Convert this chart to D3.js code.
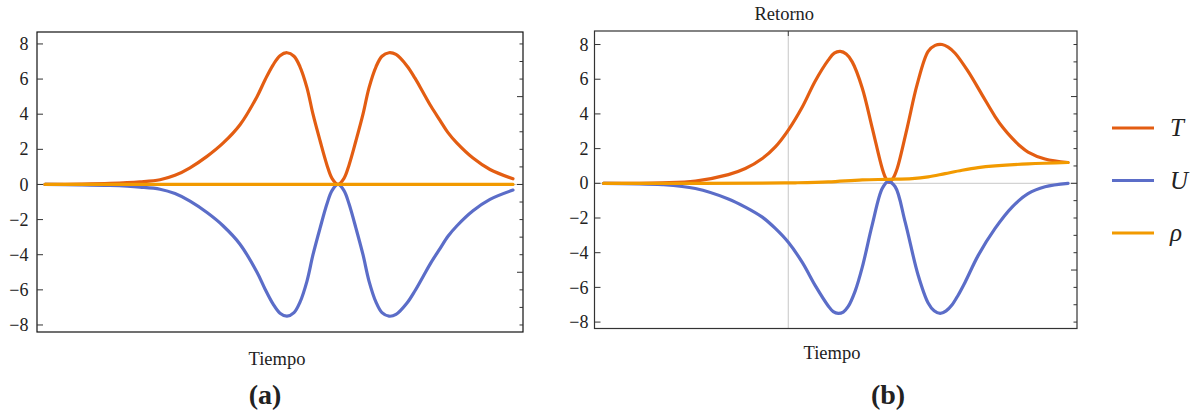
<!DOCTYPE html>
<html>
<head>
<meta charset="utf-8" />
<title>T, U, rho</title>
<script src="https://cdn.jsdelivr.net/npm/d3@7"></script>
<style>
  body { margin: 0; background: #fff; }
  svg text { font-family: "Liberation Serif", "Times New Roman", serif; }
</style>
</head>
<body>
<script>
// ---- data ----
// panel (a)
var timeA = [0, 3.5, 6.5, 9.5, 11.5, 13, 14.5, 16.2, 17.8, 19.5, 21.2, 22.0, 22.8, 23.5, 24.2, 24.9, 25.5, 26.2, 26.8, 27.5, 28.2,
             28.7, 29.3, 29.9, 30.4, 31.1, 31.8, 32.4, 33.1, 33.7, 34.4, 35.1, 36.2, 37.0, 37.8, 38.6, 39.5, 40.3, 41.2, 42.8, 44.5, 46.8];
var tempA = [0, 0.02, 0.06, 0.15, 0.27, 0.52, 0.95, 1.6, 2.35, 3.4, 5.0, 5.95, 6.8, 7.33, 7.5, 7.3, 6.7, 5.5, 4.0, 2.5, 1.1,
             0.35, 0, 0.35, 1.1, 2.5, 4.0, 5.5, 6.7, 7.3, 7.5, 7.4, 6.75, 6.05, 5.25, 4.45, 3.65, 2.95, 2.35, 1.5, 0.85, 0.32];
var velA  = [0, -0.02, -0.06, -0.15, -0.27, -0.52, -0.95, -1.6, -2.35, -3.4, -5.0, -5.95, -6.8, -7.33, -7.5, -7.3, -6.7, -5.5, -4.0, -2.5, -1.1,
             -0.35, 0, -0.35, -1.1, -2.5, -4.0, -5.5, -6.7, -7.3, -7.5, -7.4, -6.75, -6.05, -5.25, -4.45, -3.65, -2.95, -2.35, -1.5, -0.85, -0.32];
var timeRhoA = [0, 10, 20, 30, 40, 46.8];
var rhoA     = [0, 0, 0, 0, 0, 0];

// panel (b)
var timeTB = [0, 5.9, 9.2, 12.5, 14.2, 15.9, 17.2, 18.5, 19.9, 21.2, 22.5, 23.1, 23.7, 24.3, 24.9, 25.9, 26.9, 27.9, 28.25, 28.6,
              29.0, 29.4, 30.4, 31.4, 32.5, 33.2, 33.9, 34.5, 35.2, 36.5, 37.9, 39.2, 40.0, 40.9, 41.7, 42.5, 44.2, 46.5];
var tempB  = [0, 0.03, 0.13, 0.5, 0.85, 1.43, 2.1, 3.07, 4.4, 5.9, 7.1, 7.5, 7.6, 7.45, 7.0, 5.5, 3.2, 0.85, 0.3, 0.05,
              0.3, 0.85, 3.2, 5.7, 7.6, 7.95, 8.0, 7.85, 7.5, 6.45, 5.1, 3.85, 3.2, 2.6, 2.15, 1.8, 1.4, 1.2];
var timeUB = [0, 5.9, 9.2, 12.5, 14.2, 15.9, 17.2, 18.5, 19.9, 21.2, 22.5, 23.0, 23.5, 24.0, 24.5, 25.2, 25.9, 26.9, 27.9, 28.5,
              29.2, 30.2, 31.5, 32.5, 33.1, 33.7, 34.3, 34.9, 35.5, 36.2, 37.5, 39.2, 40.9, 42.5, 44.2, 46.5];
var velB   = [0, -0.08, -0.3, -0.9, -1.37, -1.95, -2.6, -3.4, -4.56, -5.9, -7.07, -7.4, -7.5, -7.42, -7.1, -6.2, -4.85, -2.4, -0.3, 0.1,
              -0.2, -2.24, -5.3, -6.9, -7.35, -7.5, -7.35, -7.0, -6.45, -5.7, -4.17, -2.6, -1.37, -0.6, -0.2, 0];
var timeRhoB = [0, 9.7, 15.9, 19.2, 22.5, 25.9, 28.5, 30.9, 32.5, 34.2, 35.9, 37.5, 39.2, 42.5, 46.5];
var rhoB     = [0, 0, 0.01, 0.03, 0.08, 0.2, 0.23, 0.27, 0.37, 0.56, 0.75, 0.9, 1.0, 1.12, 1.2];

var retornoB = 18.5;

var yTicks = [-8, -6, -4, -2, 0, 2, 4, 6, 8];
var yMinorTicks = d3.range(-8, 9);

var seriesNames = ["T", "U", "\u03c1"];
var colors = ["#e35d12", "#5b6dc8", "#f29a00"];

// ---- drawing ----
var svg = d3.select("body").append("svg")
    .attr("width", 1200)
    .attr("height", 414);

function fmt(v) {
    return v < 0 ? "\u2212" + Math.abs(v) : String(v);
}

function drawPanel(p) {
    var x = d3.scaleLinear().domain(p.xDomain).range([p.left, p.right]);
    var y = d3.scaleLinear().domain(p.yDomain).range([p.bottom, p.top]);
    var g = svg.append("g");

    // grid lines (axis at 0 and the "Retorno" marker)
    g.append("line")
        .attr("x1", p.left).attr("x2", p.right)
        .attr("y1", y(0)).attr("y2", y(0))
        .attr("stroke", "#c8c8c8").attr("stroke-width", 1);
    if (p.marker != null) {
        g.append("line")
            .attr("x1", x(p.marker)).attr("x2", x(p.marker))
            .attr("y1", p.top).attr("y2", p.bottom)
            .attr("stroke", "#d0d0d0").attr("stroke-width", 1.2);
        g.append("line")
            .attr("x1", x(p.marker)).attr("x2", x(p.marker))
            .attr("y1", p.top).attr("y2", p.top + 5)
            .attr("stroke", "#444").attr("stroke-width", 1);
        g.append("text")
            .attr("x", x(p.marker) - 4).attr("y", 20)
            .attr("text-anchor", "middle")
            .attr("font-size", 18.5)
            .attr("fill", "#222")
            .text("Retorno");
    }

    // curves
    var line = d3.line()
        .x(function (d) { return x(d[0]); })
        .y(function (d) { return y(d[1]); })
        .curve(d3.curveCatmullRom.alpha(0.5));

    p.series.forEach(function (s, i) {
        var pts = s.t.map(function (t, j) { return [t, s.v[j]]; });
        g.append("path")
            .attr("d", line(pts))
            .attr("fill", "none")
            .attr("stroke", colors[i])
            .attr("stroke-width", 3.2)
            .attr("stroke-linejoin", "round")
            .attr("stroke-linecap", "round");
    });

    // frame
    g.append("rect")
        .attr("x", p.left).attr("y", p.top)
        .attr("width", p.right - p.left).attr("height", p.bottom - p.top)
        .attr("fill", "none")
        .attr("stroke", p.frameColor)
        .attr("stroke-width", 1.2);

    // left ticks + labels
    yTicks.forEach(function (v) {
        g.append("line")
            .attr("x1", p.left).attr("x2", p.left + 6)
            .attr("y1", y(v)).attr("y2", y(v))
            .attr("stroke", "#333");
        g.append("text")
            .attr("x", p.left - p.labelGap).attr("y", y(v))
            .attr("dy", "0.34em")
            .attr("text-anchor", "end")
            .attr("font-size", 18)
            .attr("fill", "#222")
            .text(fmt(v));
    });

    // right ticks (unlabelled, every unit, longer at multiples of 5)
    yMinorTicks.forEach(function (v) {
        var len = v % 5 === 0 ? 6 : 3.5;
        g.append("line")
            .attr("x1", p.right - len).attr("x2", p.right)
            .attr("y1", y(v)).attr("y2", y(v))
            .attr("stroke", "#333");
    });

    g.append("text")
        .attr("x", p.xLabelX).attr("y", p.xLabelY)
        .attr("text-anchor", "middle")
        .attr("font-size", 18.5)
        .attr("fill", "#222")
        .text("Tiempo");

    g.append("text")
        .attr("x", p.tagX).attr("y", 404)
        .attr("text-anchor", "middle")
        .attr("font-size", 28)
        .attr("font-weight", "bold")
        .attr("fill", "#222")
        .text(p.tag);
}

drawPanel({
    left: 37, right: 523, top: 32, bottom: 332,
    xDomain: [-0.8, 47.8], yDomain: [-8.4, 8.68],
    frameColor: "#111", labelGap: 8.5,
    series: [{ t: timeA, v: tempA }, { t: timeA, v: velA }, { t: timeRhoA, v: rhoA }],
    marker: null,
    xLabelX: 277, xLabelY: 365, tagX: 265, tag: "(a)"
});

drawPanel({
    left: 594.5, right: 1077, top: 31, bottom: 328.5,
    xDomain: [-0.9, 47.4], yDomain: [-8.37, 8.78],
    frameColor: "#333", labelGap: 6,
    series: [{ t: timeTB, v: tempB }, { t: timeUB, v: velB }, { t: timeRhoB, v: rhoB }],
    marker: retornoB,
    xLabelX: 832, xLabelY: 359, tagX: 888, tag: "(b)"
});

// legend
var legend = svg.append("g");
seriesNames.forEach(function (name, i) {
    var ly = 128 + i * 52.5;
    legend.append("line")
        .attr("x1", 1112).attr("x2", 1154)
        .attr("y1", ly).attr("y2", ly)
        .attr("stroke", colors[i])
        .attr("stroke-width", 3);
    legend.append("text")
        .attr("x", 1170).attr("y", ly)
        .attr("dy", "0.33em")
        .attr("font-size", 25)
        .attr("font-style", "italic")
        .attr("fill", "#222")
        .text(name);
});
</script>
</body>
</html>
